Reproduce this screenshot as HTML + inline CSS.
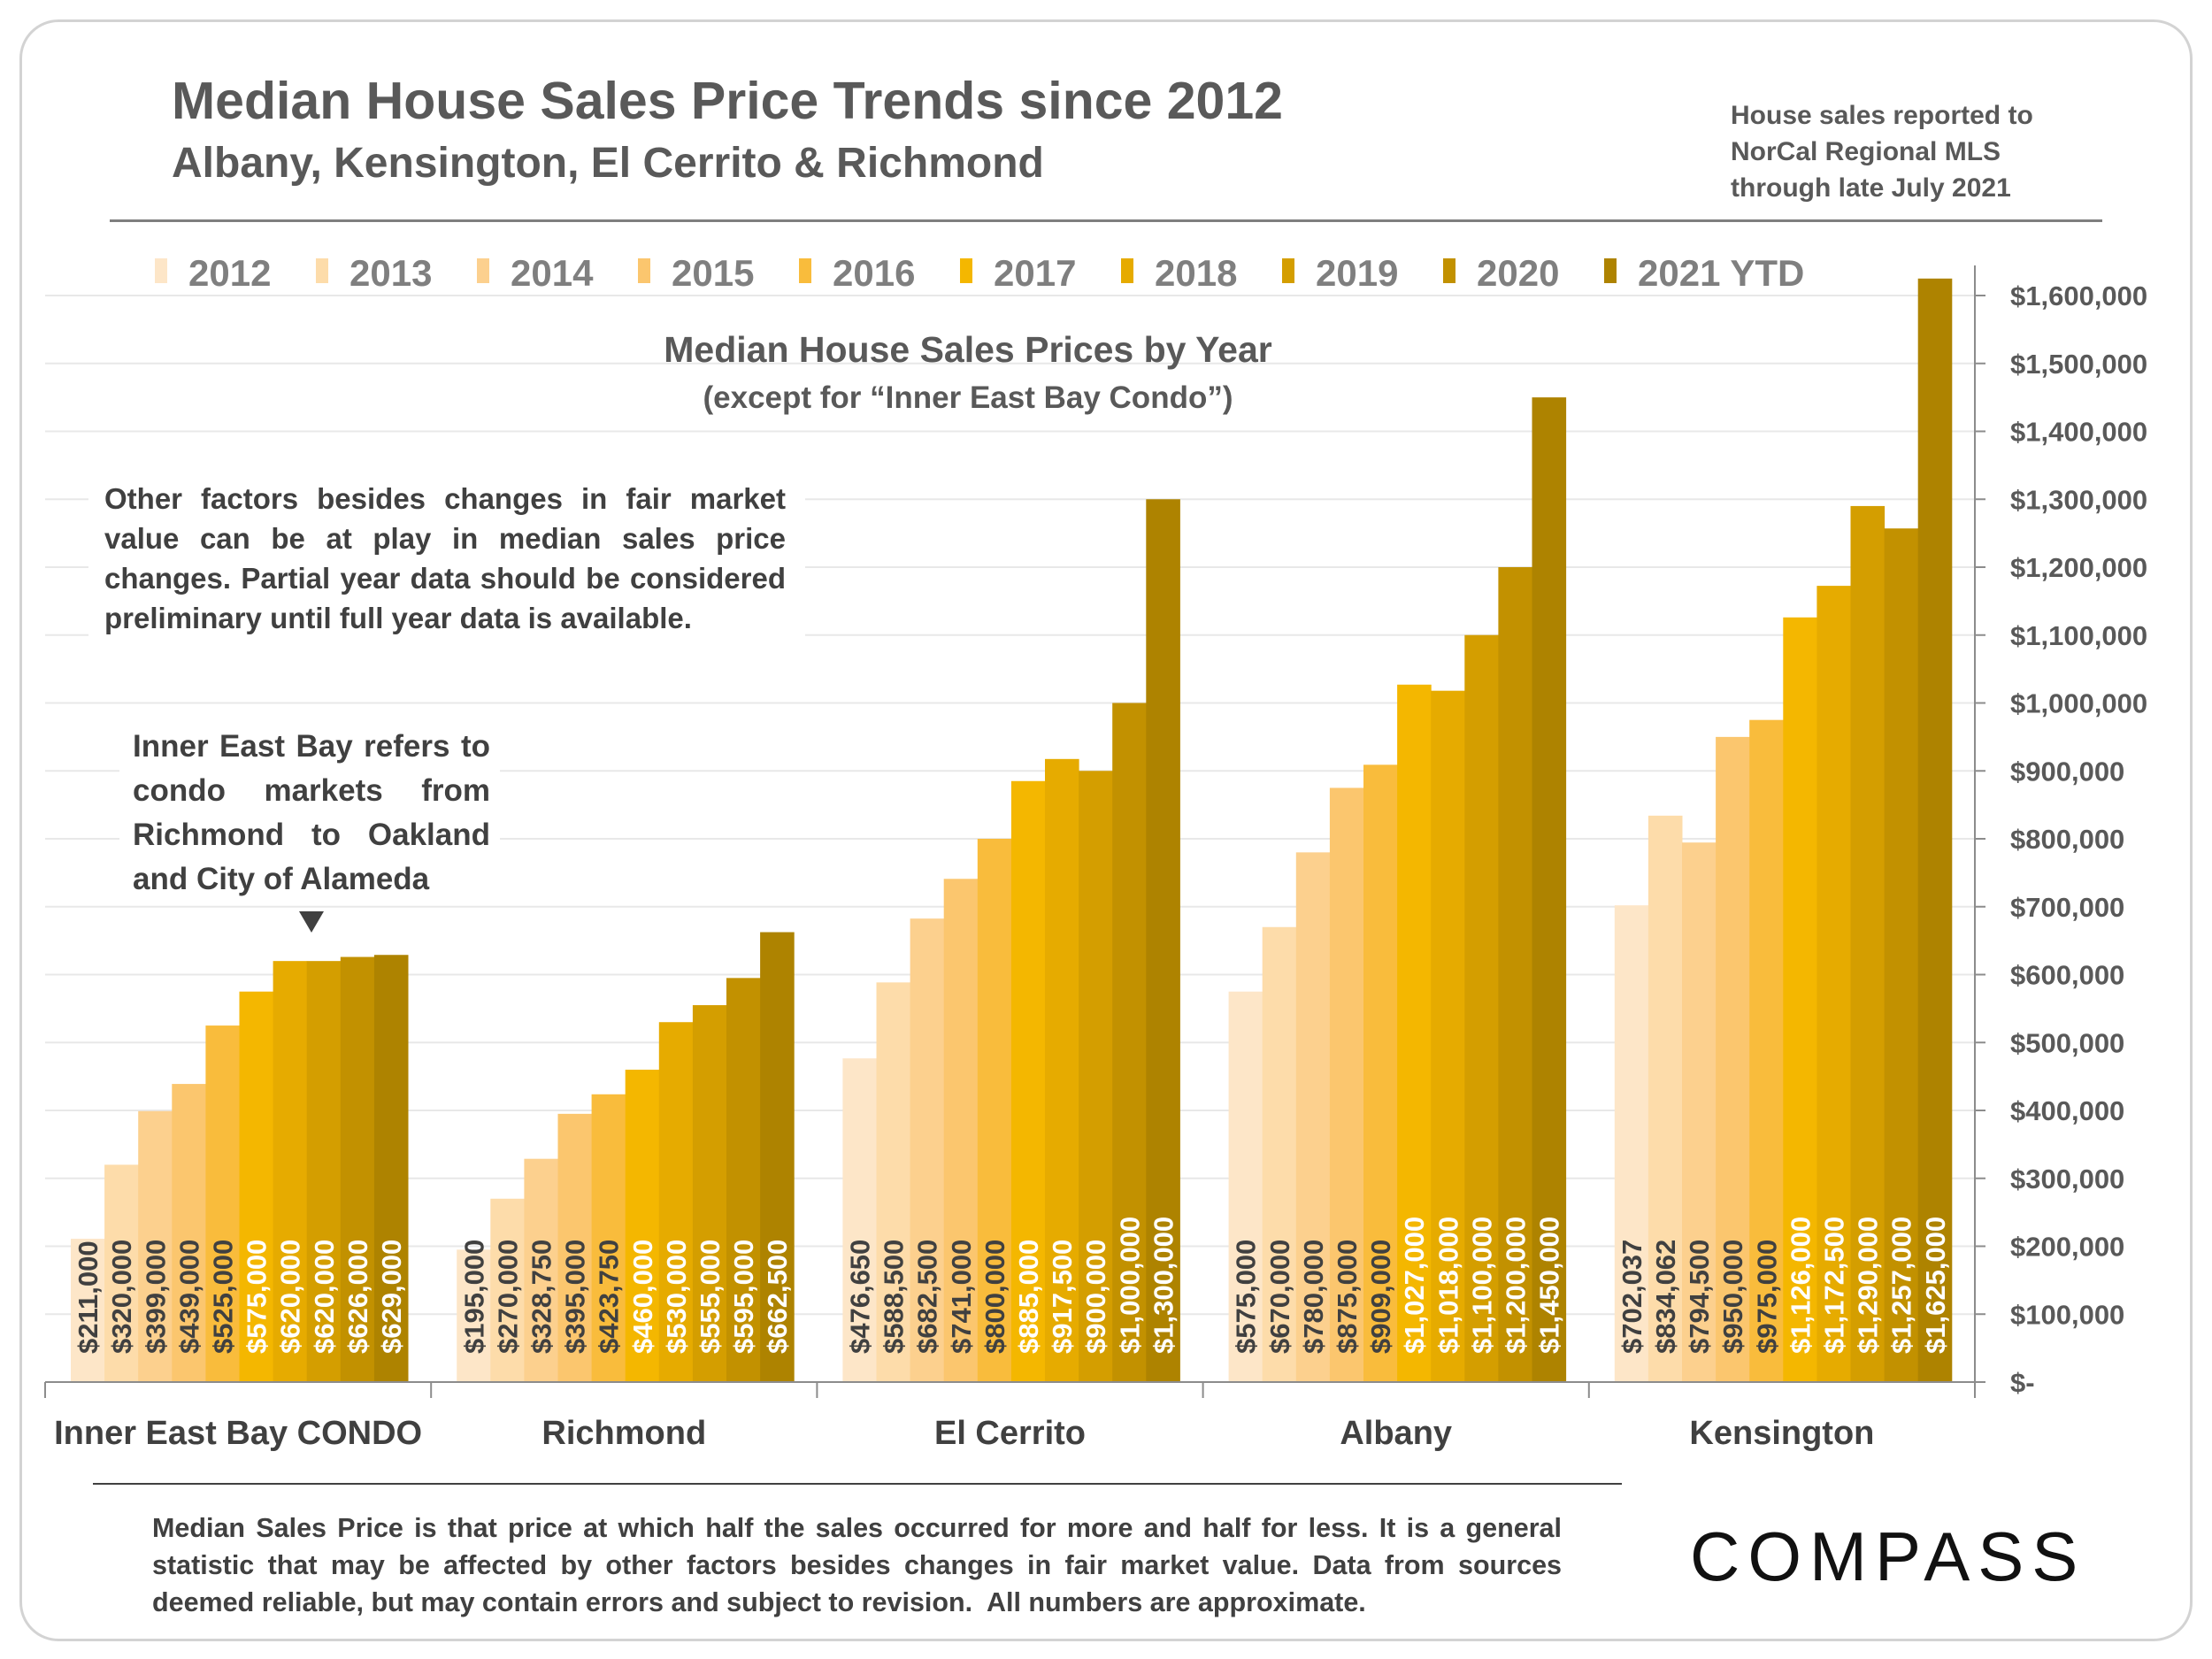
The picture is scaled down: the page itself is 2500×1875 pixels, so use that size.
<!DOCTYPE html>
<html><head><meta charset="utf-8"><style>
body{margin:0;background:#fff;}
#wrap{position:relative;width:2500px;height:1875px;overflow:hidden;font-family:"Liberation Sans",sans-serif;}
.t{position:absolute;font-weight:bold;white-space:nowrap;}
.just{position:absolute;font-weight:bold;text-align:justify;}
</style></head><body>
<div id="wrap">
<div style="position:absolute;left:22px;top:22px;width:2450px;height:1827px;border:3px solid #d3d3d3;border-radius:44px;"></div>
<div class="t" style="left:194px;top:80px;font-size:59px;color:#595959;">Median House Sales Price Trends since 2012</div>
<div class="t" style="left:194px;top:157px;font-size:48px;color:#595959;">Albany, Kensington, El Cerrito &amp; Richmond</div>
<div class="t" style="left:1956px;top:110px;font-size:30px;color:#595959;line-height:41px;">House sales reported to<br>NorCal Regional MLS<br>through late July 2021</div>
<div style="position:absolute;left:124px;top:248px;width:2252px;height:3px;background:#7f7f7f;"></div>
<svg id="chart" width="2500" height="1875" style="position:absolute;left:0;top:0;"></svg>
<div class="t" style="left:694px;top:372px;width:800px;text-align:center;font-size:41px;color:#595959;">Median House Sales Prices by Year</div>
<div class="t" style="left:694px;top:430px;width:800px;text-align:center;font-size:35px;color:#595959;">(except for “Inner East Bay Condo”)</div>
<div style="position:absolute;left:100px;top:535px;width:810px;height:190px;background:#fff;"></div>
<div class="just" style="left:118px;top:541px;width:770px;font-size:33px;line-height:45px;color:#404040;">Other factors besides changes in fair market value can be at play in median sales price changes. Partial year data should be considered preliminary until full year data is available.</div>
<div style="position:absolute;left:135px;top:810px;width:430px;height:210px;background:#fff;"></div>
<div class="just" style="left:150px;top:819px;width:404px;font-size:35px;line-height:50px;color:#404040;">Inner East Bay refers to condo markets from Richmond to Oakland and City of Alameda</div>
<div style="position:absolute;left:338px;top:1030px;width:0;height:0;border-left:14px solid transparent;border-right:14px solid transparent;border-top:24px solid #404040;"></div>
<div style="position:absolute;left:105px;top:1676px;width:1728px;height:2px;background:#404040;"></div>
<div class="just" style="left:172px;top:1706px;width:1593px;font-size:30.5px;line-height:42px;color:#404040;">Median Sales Price is that price at which half the sales occurred for more and half for less. It is a general statistic that may be affected by other factors besides changes in fair market value. Data from sources deemed reliable, but may contain errors and subject to revision.&nbsp; All numbers are approximate.</div>
<div class="t" style="left:1910px;top:1714px;font-size:78px;font-weight:normal;letter-spacing:9px;color:#111;">COMPASS</div>
</div>
<script>
const years = ["2012","2013","2014","2015","2016","2017","2018","2019","2020","2021 YTD"];
const categories = ["Inner East Bay CONDO","Richmond","El Cerrito","Albany","Kensington"];
const condo = [211000,320000,399000,439000,525000,575000,620000,620000,626000,629000];
const richmond = [195000,270000,328750,395000,423750,460000,530000,555000,595000,662500];
const elCerrito = [476650,588500,682500,741000,800000,885000,917500,900000,1000000,1300000];
const albany = [575000,670000,780000,875000,909000,1027000,1018000,1100000,1200000,1450000];
const kensington = [702037,834062,794500,950000,975000,1126000,1172500,1290000,1257000,1625000];
const series = [condo,richmond,elCerrito,albany,kensington];
const yTicks = [0,100000,200000,300000,400000,500000,600000,700000,800000,900000,1000000,1100000,1200000,1300000,1400000,1500000,1600000];
const colors = ["#FDE6C8","#FDDCAA","#FCD08E","#FBC66E","#F9BC3C","#F4B700","#E6AB00","#D49E00","#C29100","#AE8300"];
const NS="http://www.w3.org/2000/svg";
const svg=document.getElementById('chart');
const X0=51,X1=2232,Y0=1562,PER=76.75/100000;
const y=v=>Y0-v*PER;
const gw=(X1-X0)/categories.length;
const bw=38.1;
const bx=(g,i)=>X0+g*gw+29+i*bw;
function mk(t,a){const e=document.createElementNS(NS,t);for(const k in a)e.setAttribute(k,a[k]);svg.appendChild(e);return e;}
function fmt(v){return v===0?"$-":"$"+v.toLocaleString("en-US");}
yTicks.forEach(v=>{
  if(v>0){const g=mk('line',{x1:X0,x2:X1,y1:y(v),y2:y(v),stroke:'#e8e8e8','stroke-width':2});
  
  }
  const tk=mk('line',{x1:X1,x2:X1+12,y1:y(v),y2:y(v),stroke:'#8c8c8c','stroke-width':2});
  
  
  const t=mk('text',{x:2272,y:y(v)+11,'font-size':31,'font-weight':'bold',fill:'#595959','font-family':'Liberation Sans, sans-serif'});
  t.textContent=fmt(v);
  
  
});
series.forEach((arr,g)=>{
  arr.forEach((v,i)=>{
    const r=mk('rect',{x:bx(g,i),y:y(v),width:bw+0.5,height:Y0-y(v),fill:colors[i]});
    
    
  });
  arr.forEach((v,i)=>{
    const cx=bx(g,i)+bw/2+11,cy=1530;
    const t=mk('text',{x:cx,y:cy,transform:`rotate(-90 ${cx} ${cy})`,'font-size':31,'font-weight':'bold',fill:i>=5?'#fff':'#404040','font-family':'Liberation Sans, sans-serif'});
    t.textContent=fmt(v);
    
    
  });
  const c=mk('text',{x:X0+g*gw+gw/2,y:1632,'text-anchor':'middle','font-size':38,'font-weight':'bold',fill:'#404040','font-family':'Liberation Sans, sans-serif'});
  c.textContent=categories[g];
  
  
});
for(let g=0;g<=categories.length;g++){
  const l=mk('line',{x1:X0+g*gw,x2:X0+g*gw,y1:Y0,y2:Y0+18,stroke:'#8c8c8c','stroke-width':2});
  
  
}
const xa=mk('line',{x1:X0,x2:X1,y1:Y0,y2:Y0,stroke:'#8c8c8c','stroke-width':2});


const ya=mk('line',{x1:X1,x2:X1,y1:300,y2:Y0,stroke:'#8c8c8c','stroke-width':2});


years.forEach((yr,i)=>{
  const lx=175+i*182;
  const s=mk('rect',{x:lx,y:292,width:14,height:28,fill:colors[i]});
  
  
  const t=mk('text',{x:lx+38,y:323,'font-size':42,'font-weight':'bold',fill:'#7f7f7f','font-family':'Liberation Sans, sans-serif'});
  t.textContent=yr;
  
  
});
</script>
</body></html>
